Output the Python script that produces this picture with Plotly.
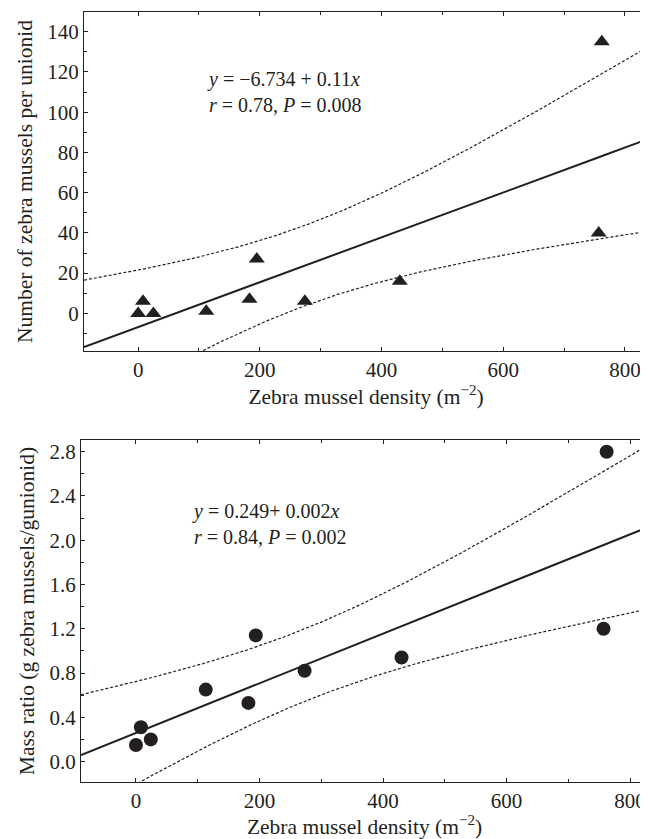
import numpy as np
import plotly.graph_objects as go

# ---------------- data ----------------
density_top = [0, 8, 25, 112, 183, 195, 274, 430, 757, 762]
mussels_per_unionid = [0, 6, 0, 1, 7, 27, 6, 16, 40, 135]

density_bottom = [0, 8, 24, 113, 182, 194, 273, 430, 757, 762]
mass_ratio = [0.15, 0.31, 0.20, 0.65, 0.53, 1.14, 0.82, 0.94, 1.20, 2.80]

x_ticks = [0, 200, 400, 600, 800]
y_ticks_top = [0, 20, 40, 60, 80, 100, 120, 140]
y_ticks_bottom = [0.0, 0.4, 0.8, 1.2, 1.6, 2.0, 2.4, 2.8]
y_ticktext_bottom = ["0.0", "0.4", "0.8", "1.2", "1.6", "2.0", "2.4", "2.8"]

eq_top = ["<i>y</i> = −6.734 + 0.11<i>x</i>", "<i>r</i> = 0.78, <i>P</i> = 0.008"]
eq_bottom = ["<i>y</i> = 0.249+ 0.002<i>x</i>", "<i>r</i> = 0.84, <i>P</i> = 0.002"]

x_title = "Zebra mussel density (m<sup>−2</sup>)"
y_title_top = "Number of zebra mussels per unionid"
y_title_bottom = "Mass ratio (g zebra mussels/gunionid)"

T_CRIT = 2.306  # Student t (0.975, df = 8) for 95% confidence band

X_RANGE_TOP = [-89, 838]
X_RANGE_BOTTOM = [-89, 829]
Y_RANGE_TOP = [-18.7, 149.8]
Y_RANGE_BOTTOM = [-0.185, 2.906]

INK = "#231f20"
FONT = "Liberation Serif"
TICK_SIZE = 21
TITLE_SIZE = 21.5
EQ_SIZE = 20


def regression(x, y, grid):
    x = np.asarray(x, float)
    y = np.asarray(y, float)
    n = len(x)
    xb = x.mean()
    sxx = ((x - xb) ** 2).sum()
    b = ((x - xb) * (y - y.mean())).sum() / sxx
    a = y.mean() - b * xb
    s = np.sqrt(((y - (a + b * x)) ** 2).sum() / (n - 2))
    yh = a + b * grid
    half = T_CRIT * s * np.sqrt(1.0 / n + (grid - xb) ** 2 / sxx)
    return yh, yh - half, yh + half


fig = go.Figure()

panels = [
    (density_top, mussels_per_unionid, X_RANGE_TOP, "x", "y", "triangle-up", 14),
    (density_bottom, mass_ratio, X_RANGE_BOTTOM, "x2", "y2", "circle", 14),
]
for xs, ys, xr, xa, ya, sym, msize in panels:
    grid = np.linspace(xr[0], xr[1], 300)
    yh, lo, hi = regression(xs, ys, grid)
    for band in (lo, hi):
        fig.add_trace(go.Scatter(x=grid, y=band, mode="lines", xaxis=xa, yaxis=ya,
                                 line=dict(color=INK, width=1.2, dash="3px,2px"),
                                 showlegend=False, hoverinfo="skip"))
    fig.add_trace(go.Scatter(x=grid, y=yh, mode="lines", xaxis=xa, yaxis=ya,
                             line=dict(color=INK, width=2), showlegend=False,
                             hoverinfo="skip"))
    fig.add_trace(go.Scatter(x=xs, y=ys, mode="markers", xaxis=xa, yaxis=ya,
                             marker=dict(symbol=sym, size=msize, color=INK,
                                         line=dict(width=0)),
                             showlegend=False, cliponaxis=False))

# page body has an 8px default margin; the figure is sized so that it ends
# exactly at the 648x839 window edge
OFF = 8
W, H = 648 - OFF, 839 - OFF


def px_x(p):
    return (p - OFF) / W


def px_y(p):
    return 1 - (p - OFF) / H


common_axis = dict(
    showline=True, linecolor=INK, linewidth=1.3, showgrid=False, zeroline=False,
    ticks="inside", ticklen=4, tickcolor=INK, tickwidth=1,
    tickfont=dict(family=FONT, size=TICK_SIZE, color=INK), automargin=False,
)
title_font = dict(family=FONT, size=TITLE_SIZE, color=INK)

fig.update_layout(
    width=W, height=H, template="none",
    paper_bgcolor="white", plot_bgcolor="white",
    margin=dict(l=0, r=0, t=0, b=0),
    font=dict(family=FONT, color=INK),
    xaxis=dict(common_axis, domain=[px_x(84), 1], anchor="y", range=X_RANGE_TOP,
               tickvals=x_ticks, mirror="ticks",
               minor=dict(dtick=100, ticks="inside", ticklen=3, tickcolor=INK),
               title=dict(text=x_title, font=title_font, standoff=6)),
    yaxis=dict(common_axis, domain=[px_y(351), px_y(12)], anchor="x", range=Y_RANGE_TOP,
               tickvals=y_ticks_top, mirror=False,
               minor=dict(dtick=10, ticks="inside", ticklen=3, tickcolor=INK),
               title=dict(text=y_title_top, font=title_font, standoff=8)),
    xaxis2=dict(common_axis, domain=[px_x(81), 1], anchor="y2", range=X_RANGE_BOTTOM,
                tickvals=x_ticks, mirror="ticks",
                minor=dict(dtick=100, ticks="inside", ticklen=3, tickcolor=INK),
                title=dict(text=x_title, font=title_font, standoff=6)),
    yaxis2=dict(common_axis, domain=[px_y(782), px_y(440)], anchor="x2", range=Y_RANGE_BOTTOM,
                tickvals=y_ticks_bottom, ticktext=y_ticktext_bottom, mirror=False,
                minor=dict(dtick=0.2, ticks="inside", ticklen=3, tickcolor=INK),
                title=dict(text=y_title_bottom, font=title_font, standoff=8)),
)

fig.add_annotation(xref="paper", yref="paper", x=px_x(205), y=px_y(92), xanchor="left",
                   yanchor="middle", align="left", showarrow=False,
                   text="<br>".join(eq_top), font=dict(family=FONT, size=EQ_SIZE, color=INK))
fig.add_annotation(xref="paper", yref="paper", x=px_x(190), y=px_y(524), xanchor="left",
                   yanchor="middle", align="left", showarrow=False,
                   text="<br>".join(eq_bottom), font=dict(family=FONT, size=EQ_SIZE, color=INK))

fig.write_html("out.html")
